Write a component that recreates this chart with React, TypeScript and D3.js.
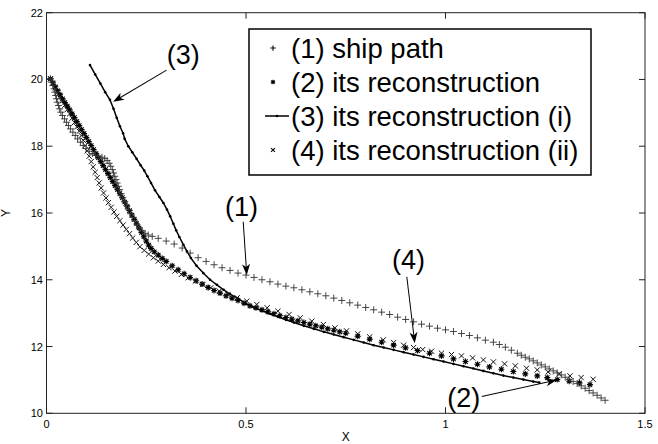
import { useEffect, useRef } from 'react';
import * as d3 from 'd3';

type Pt = [number, number];

// (1) ship path, '+' markers
const shipPath: Pt[] = [
  [0.010, 20.02], [0.013, 19.92], [0.016, 19.82], [0.019, 19.72], [0.021, 19.62], [0.023, 19.52],
  [0.025, 19.42], [0.027, 19.32], [0.030, 19.22], [0.033, 19.12], [0.036, 19.02], [0.040, 18.92],
  [0.045, 18.82], [0.050, 18.72], [0.055, 18.62], [0.060, 18.52], [0.066, 18.42], [0.072, 18.32],
  [0.078, 18.22], [0.085, 18.12], [0.092, 18.02], [0.099, 17.93], [0.107, 17.85], [0.115, 17.78],
  [0.123, 17.73], [0.131, 17.70], [0.139, 17.67], [0.146, 17.63], [0.152, 17.57], [0.157, 17.49],
  [0.161, 17.40], [0.165, 17.30], [0.168, 17.20], [0.171, 17.10], [0.174, 17.00], [0.177, 16.90],
  [0.180, 16.80], [0.183, 16.70], [0.187, 16.58], [0.191, 16.46], [0.196, 16.34], [0.201, 16.22],
  [0.206, 16.10], [0.211, 15.98], [0.216, 15.87], [0.221, 15.76], [0.227, 15.65], [0.233, 15.55],
  [0.240, 15.46], [0.247, 15.39], [0.255, 15.34], [0.265, 15.30], [0.280, 15.24], [0.300, 15.16],
  [0.320, 15.07], [0.340, 14.95], [0.360, 14.80], [0.380, 14.66], [0.400, 14.55], [0.420, 14.45],
  [0.440, 14.36], [0.460, 14.28], [0.480, 14.20], [0.500, 14.14], [0.520, 14.07], [0.540, 14.00],
  [0.560, 13.94], [0.580, 13.87], [0.600, 13.81], [0.620, 13.76], [0.640, 13.70], [0.660, 13.64],
  [0.680, 13.58], [0.700, 13.52], [0.720, 13.45], [0.740, 13.38], [0.760, 13.31], [0.780, 13.24],
  [0.800, 13.17], [0.820, 13.10], [0.840, 13.03], [0.860, 12.96], [0.880, 12.88], [0.900, 12.81],
  [0.920, 12.74], [0.940, 12.67], [0.960, 12.61], [0.980, 12.55], [1.000, 12.50], [1.020, 12.45],
  [1.040, 12.39], [1.060, 12.33], [1.080, 12.26], [1.100, 12.19], [1.120, 12.13], [1.135, 12.06],
  [1.150, 11.98], [1.165, 11.89], [1.180, 11.80], [1.190, 11.74], [1.200, 11.68], [1.210, 11.63],
  [1.220, 11.57], [1.230, 11.51], [1.240, 11.45], [1.250, 11.39], [1.260, 11.33], [1.270, 11.27],
  [1.280, 11.21], [1.290, 11.15], [1.300, 11.08], [1.310, 11.02], [1.320, 10.95], [1.330, 10.89],
  [1.340, 10.82], [1.350, 10.75], [1.360, 10.68], [1.370, 10.61], [1.380, 10.54], [1.390, 10.46],
  [1.400, 10.39],
];

// (2) its reconstruction, '*' markers
const reconstruction: Pt[] = [
  [0.010, 20.02], [0.016, 19.90], [0.022, 19.78], [0.028, 19.66], [0.034, 19.54], [0.040, 19.42],
  [0.046, 19.31], [0.052, 19.20], [0.058, 19.09], [0.064, 18.97], [0.070, 18.86], [0.076, 18.74],
  [0.082, 18.62], [0.088, 18.50], [0.094, 18.38], [0.100, 18.26], [0.106, 18.14], [0.112, 18.02],
  [0.118, 17.90], [0.124, 17.78], [0.130, 17.66], [0.136, 17.54], [0.142, 17.42], [0.148, 17.30],
  [0.154, 17.18], [0.160, 17.06], [0.166, 16.94], [0.172, 16.82], [0.178, 16.70], [0.184, 16.58],
  [0.190, 16.46], [0.196, 16.33], [0.202, 16.20], [0.208, 16.07], [0.214, 15.94], [0.220, 15.81],
  [0.226, 15.68], [0.232, 15.55], [0.238, 15.42], [0.244, 15.29], [0.250, 15.16], [0.256, 15.04],
  [0.262, 14.94], [0.270, 14.84], [0.280, 14.74], [0.290, 14.64], [0.300, 14.55], [0.315, 14.42],
  [0.330, 14.30], [0.345, 14.18], [0.360, 14.07], [0.375, 13.97], [0.390, 13.87], [0.405, 13.77],
  [0.420, 13.68], [0.435, 13.60], [0.450, 13.52], [0.465, 13.45], [0.480, 13.38], [0.495, 13.30],
  [0.510, 13.22], [0.525, 13.16], [0.540, 13.10], [0.555, 13.04], [0.570, 12.98], [0.585, 12.92],
  [0.600, 12.87], [0.615, 12.82], [0.630, 12.77], [0.645, 12.72], [0.660, 12.67], [0.675, 12.62],
  [0.690, 12.58], [0.705, 12.53], [0.720, 12.49], [0.735, 12.44], [0.750, 12.40], [0.780, 12.31],
  [0.810, 12.22], [0.840, 12.13], [0.870, 12.04], [0.900, 11.96], [0.930, 11.88], [0.960, 11.80],
  [0.990, 11.72], [1.020, 11.63], [1.050, 11.55], [1.080, 11.47], [1.110, 11.39], [1.140, 11.32],
  [1.170, 11.25], [1.200, 11.18], [1.230, 11.12], [1.255, 11.07], [1.280, 11.01], [1.310, 10.96],
  [1.336, 10.91], [1.362, 10.86],
];

// (3) its reconstruction (i), line with point markers
const reconstructionI: Pt[] = [
  [0.109, 20.43], [0.122, 20.15], [0.135, 19.88], [0.147, 19.62], [0.159, 19.39], [0.168, 19.12],
  [0.176, 18.85], [0.184, 18.60], [0.192, 18.39], [0.196, 18.22], [0.205, 18.00], [0.215, 17.82],
  [0.226, 17.62], [0.236, 17.43], [0.245, 17.27], [0.253, 17.10], [0.262, 16.90], [0.272, 16.68],
  [0.283, 16.48], [0.293, 16.30], [0.302, 16.10], [0.310, 15.90], [0.318, 15.68], [0.325, 15.48],
  [0.333, 15.28], [0.343, 15.05], [0.352, 14.85], [0.362, 14.65], [0.376, 14.42], [0.393, 14.20],
  [0.410, 14.00], [0.427, 13.85], [0.444, 13.70], [0.460, 13.57], [0.480, 13.44], [0.500, 13.28],
  [0.520, 13.17], [0.540, 13.07], [0.560, 12.98], [0.580, 12.89], [0.600, 12.80], [0.620, 12.72],
  [0.645, 12.62], [0.670, 12.53], [0.695, 12.44], [0.720, 12.36], [0.745, 12.28], [0.770, 12.20],
  [0.795, 12.12], [0.820, 12.04], [0.845, 11.97], [0.870, 11.90], [0.895, 11.83], [0.920, 11.76],
  [0.945, 11.69], [0.970, 11.62], [0.995, 11.55], [1.020, 11.48], [1.045, 11.41], [1.070, 11.34],
  [1.095, 11.27], [1.120, 11.20], [1.145, 11.13], [1.170, 11.07], [1.195, 11.01], [1.220, 10.95],
  [1.235, 10.92],
];

// (4) its reconstruction (ii), 'x' markers
const reconstructionII: Pt[] = [
  [0.010, 20.02], [0.016, 19.88], [0.022, 19.75], [0.028, 19.62], [0.034, 19.49], [0.040, 19.36],
  [0.046, 19.23], [0.052, 19.10], [0.058, 18.97], [0.064, 18.84], [0.070, 18.71], [0.076, 18.58],
  [0.082, 18.45], [0.087, 18.32], [0.092, 18.18], [0.097, 18.02], [0.102, 17.86], [0.107, 17.70],
  [0.112, 17.54], [0.117, 17.38], [0.122, 17.22], [0.127, 17.06], [0.132, 16.90], [0.137, 16.75],
  [0.143, 16.60], [0.149, 16.45], [0.155, 16.31], [0.162, 16.17], [0.169, 16.03], [0.176, 15.90],
  [0.184, 15.77], [0.192, 15.64], [0.200, 15.51], [0.208, 15.38], [0.216, 15.25], [0.225, 15.12],
  [0.234, 14.99], [0.245, 14.88], [0.256, 14.77], [0.268, 14.66], [0.280, 14.56], [0.293, 14.46],
  [0.307, 14.36], [0.322, 14.26], [0.338, 14.16], [0.355, 14.06], [0.373, 13.96], [0.392, 13.86],
  [0.412, 13.76], [0.433, 13.66], [0.455, 13.56], [0.478, 13.46], [0.502, 13.36], [0.527, 13.26],
  [0.553, 13.16], [0.580, 13.06], [0.608, 12.96], [0.636, 12.86], [0.665, 12.76], [0.694, 12.66],
  [0.723, 12.56], [0.752, 12.47], [0.780, 12.38], [0.810, 12.29], [0.844, 12.20], [0.870, 12.12],
  [0.895, 12.04], [0.920, 11.97], [0.943, 11.91], [0.965, 11.86], [0.990, 11.80], [1.015, 11.76],
  [1.040, 11.72], [1.068, 11.66], [1.095, 11.60], [1.120, 11.54], [1.148, 11.48], [1.175, 11.42],
  [1.203, 11.35], [1.230, 11.30], [1.257, 11.24], [1.285, 11.18], [1.312, 11.12], [1.340, 11.07],
  [1.370, 11.02],
];

const xTicks = [0, 0.5, 1, 1.5];
const yTicks = [10, 12, 14, 16, 18, 20, 22];
const legendLabels = [
  '(1) ship path',
  '(2) its reconstruction',
  '(3) its reconstruction (i)',
  '(4) its reconstruction (ii)',
];

const plusPath = 'M-3.5,0H3.5M0,-3.5V3.5';
const crossPath = 'M-2.6,-2.6L2.6,2.6M-2.6,2.6L2.6,-2.6';
const starPath = 'M-3,0H3M0,-3V3M-2.2,-2.2L2.2,2.2M-2.2,2.2L2.2,-2.2';

const font = '"Liberation Sans", Arial, Helvetica, sans-serif';

const App = () => {
  const svgRef = useRef<SVGSVGElement>(null);

  useEffect(() => {
    if (!svgRef.current) return;
    const svg = d3.select(svgRef.current);
    svg.selectAll('*').remove();

    const left = 46.5, right = 645, top = 12.7, bottom = 413.3;
    const x = d3.scaleLinear().domain([0, 1.5]).range([left, right]);
    const y = d3.scaleLinear().domain([10, 22]).range([bottom, top]);

    svg.append('rect').attr('width', 658).attr('height', 444).attr('fill', 'white');

    // data
    const g = svg.append('g');

    g.append('path')
      .datum(reconstructionI)
      .attr('d', d3.line<Pt>().x(d => x(d[0])).y(d => y(d[1])))
      .attr('fill', 'none')
      .attr('stroke', '#000')
      .attr('stroke-width', 1.5);
    g.selectAll('circle.r3')
      .data(reconstructionI)
      .enter()
      .append('circle')
      .attr('class', 'r3')
      .attr('cx', d => x(d[0]))
      .attr('cy', d => y(d[1]))
      .attr('r', 1.3)
      .attr('fill', '#000');

    const markers = (data: Pt[], path: string, cls: string, color: string, w: number) => {
      g.selectAll(`path.${cls}`)
        .data(data)
        .enter()
        .append('path')
        .attr('class', cls)
        .attr('d', path)
        .attr('transform', d => `translate(${x(d[0])},${y(d[1])})`)
        .attr('fill', 'none')
        .attr('stroke', color)
        .attr('stroke-width', w);
    };
    markers(reconstruction, starPath, 'r2', '#000', 1.1);
    markers(reconstructionII, crossPath, 'r4', '#111', 1);
    markers(shipPath, plusPath, 'r1', '#333', 0.9);

    // axes box and ticks
    svg.append('rect')
      .attr('x', left).attr('y', top)
      .attr('width', right - left).attr('height', bottom - top)
      .attr('fill', 'none').attr('stroke', '#222').attr('stroke-width', 1);

    const tickLen = 6;
    xTicks.forEach(t => {
      svg.append('line').attr('x1', x(t)).attr('x2', x(t)).attr('y1', bottom).attr('y2', bottom - tickLen)
        .attr('stroke', '#222');
      svg.append('line').attr('x1', x(t)).attr('x2', x(t)).attr('y1', top).attr('y2', top + tickLen)
        .attr('stroke', '#222');
      svg.append('text')
        .attr('x', x(t)).attr('y', 428)
        .attr('text-anchor', 'middle')
        .style('font-family', font).style('font-size', '11px')
        .text(String(t));
    });
    yTicks.forEach(t => {
      svg.append('line').attr('x1', left).attr('x2', left + tickLen).attr('y1', y(t)).attr('y2', y(t))
        .attr('stroke', '#222');
      svg.append('line').attr('x1', right).attr('x2', right - tickLen).attr('y1', y(t)).attr('y2', y(t))
        .attr('stroke', '#222');
      svg.append('text')
        .attr('x', 43).attr('y', y(t) + 4)
        .attr('text-anchor', 'end')
        .style('font-family', font).style('font-size', '11px')
        .text(String(t));
    });

    svg.append('text')
      .attr('x', (left + right) / 2).attr('y', 441)
      .attr('text-anchor', 'middle')
      .style('font-family', font).style('font-size', '12px')
      .text('X');
    svg.append('text')
      .attr('transform', `translate(10, ${(top + bottom) / 2}) rotate(-90)`)
      .attr('text-anchor', 'middle')
      .style('font-family', font).style('font-size', '12px')
      .text('Y');

    // callouts
    const callouts = [
      { label: '(3)', tx: 0.343, ty: 20.46, from: [0.301, 20.28], to: [0.167, 19.33] },
      { label: '(1)', tx: 0.489, ty: 15.91, from: [0.493, 15.74], to: [0.502, 14.14] },
      { label: '(4)', tx: 0.907, ty: 14.31, from: [0.903, 14.09], to: [0.923, 12.10] },
      { label: '(2)', tx: 1.046, ty: 10.19, from: [1.091, 10.50], to: [1.279, 11.0] },
    ];
    callouts.forEach(c => {
      svg.append('text')
        .attr('x', x(c.tx)).attr('y', y(c.ty))
        .attr('text-anchor', 'middle')
        .style('font-family', font).style('font-size', '27px')
        .text(c.label);
      const x1 = x(c.from[0]), y1 = y(c.from[1]);
      const x2 = x(c.to[0]), y2 = y(c.to[1]);
      const ang = Math.atan2(y2 - y1, x2 - x1);
      const len = Math.hypot(x2 - x1, y2 - y1);
      const ag = svg.append('g').attr('transform', `translate(${x1},${y1}) rotate(${(ang * 180) / Math.PI})`);
      ag.append('line').attr('x1', 0).attr('y1', 0).attr('x2', len - 6).attr('y2', 0)
        .attr('stroke', '#000').attr('stroke-width', 1);
      ag.append('path')
        .attr('d', `M${len},0L${len - 11},-4L${len - 8},0L${len - 11},4Z`)
        .attr('fill', '#000');
    });

    // legend
    const lg = svg.append('g');
    lg.append('rect')
      .attr('x', 249).attr('y', 29).attr('width', 342).attr('height', 146)
      .attr('fill', 'white').attr('stroke', '#000').attr('stroke-width', 1.5);
    const legendMarks = [plusPath, starPath, null, crossPath];
    legendLabels.forEach((lab, i) => {
      const cy = 48 + i * 34;
      const m = legendMarks[i];
      if (m) {
        lg.append('path').attr('d', m)
          .attr('transform', `translate(273,${cy}) scale(0.75)`)
          .attr('fill', 'none').attr('stroke', '#000').attr('stroke-width', 1.4);
      } else {
        lg.append('line').attr('x1', 265).attr('x2', 289).attr('y1', cy).attr('y2', cy)
          .attr('stroke', '#000').attr('stroke-width', 1.5);
        lg.append('circle').attr('cx', 277).attr('cy', cy).attr('r', 1.3).attr('fill', '#000');
      }
      lg.append('text')
        .attr('x', 291).attr('y', cy + 9.5)
        .style('font-family', font).style('font-size', '27.5px')
        .text(lab);
    });
  }, []);

  return (
    <svg ref={svgRef} width={658} height={444} style={{ position: 'absolute', left: 0, top: 0 }} />
  );
};

export default App;
